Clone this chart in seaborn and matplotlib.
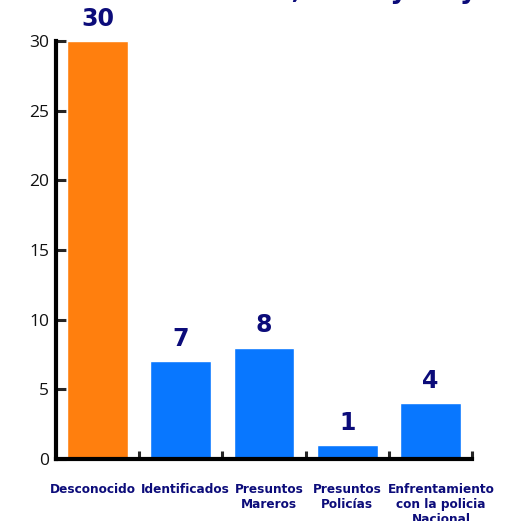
import pandas as pd
import matplotlib.pyplot as plt
import matplotlib.transforms as mtransforms
import seaborn as sns
from matplotlib.ticker import FixedLocator

categories = ["Desconocido", "Identificados", "Presuntos\nMareros",
              "Presuntos\nPolicías", "Enfrentamiento\ncon la policia\nNacional"]
values = [30, 7, 8, 1, 4]
colors = ["#FF7F0E", "#0877FF", "#0877FF", "#0877FF", "#0877FF"]
title = "Marzo, Abril y Mayo"

NAVY = "#0c0c7a"
# small horizontal nudges (px) of the category labels, as in the original
label_shift = [-5, 4.5, 5, 0, 10.5]

df = pd.DataFrame({"categoria": categories, "casos": values})

sns.set_style("white")
plt.rcParams["font.family"] = ["Open Sans", "DejaVu Sans"]

fig = plt.figure(figsize=(5.19, 5.21), dpi=100)
ax = fig.add_axes([56 / 519, 1 - 459 / 521, 416 / 519, 418 / 521])

sns.barplot(data=df, x="categoria", y="casos", hue="categoria",
            palette=colors, legend=False, width=0.73, saturation=1, ax=ax)

ax.set_xlim(-0.5, 4.5)
ax.set_ylim(0, 30)
ax.set_yticks([0, 5, 10, 15, 20, 25, 30])
ax.set_xlabel("")
ax.set_ylabel("")

for s in ["top", "right"]:
    ax.spines[s].set_visible(False)
for s in ["left", "bottom"]:
    ax.spines[s].set_linewidth(3)
    ax.spines[s].set_color("black")

ax.tick_params(axis="y", direction="in", length=7, width=2.2, pad=5,
               labelsize=12.5, left=True, labelcolor="#111111")
ax.tick_params(axis="x", which="major", length=0, pad=17)
ax.xaxis.set_minor_locator(FixedLocator([0.5, 1.5, 2.5, 3.5, 4.5]))
ax.tick_params(axis="x", which="minor", direction="in", length=6, width=2.2,
               bottom=True)

for lab, dx in zip(ax.get_xticklabels(), label_shift):
    lab.set_family("DejaVu Sans")
    lab.set_fontweight("bold")
    lab.set_color(NAVY)
    lab.set_fontsize(8.7)
    lab.set_verticalalignment("top")
    lab.set_linespacing(1.2)
    shift = mtransforms.ScaledTranslation(dx / 100, 0, fig.dpi_scale_trans)
    lab.set_transform(lab.get_transform() + shift)

for i, v in enumerate(values):
    ax.annotate(str(v), (i, v), xytext=(0, 7.5), textcoords="offset points",
                ha="center", va="bottom", fontsize=17, fontweight="heavy",
                family="DejaVu Sans", color=NAVY, annotation_clip=False)

fig.text(495 / 519, 1 + 2 / 521, title, ha="right", va="baseline",
         fontsize=19, fontweight="bold", family="DejaVu Sans", color=NAVY)

fig.savefig("out.png", dpi=100)
